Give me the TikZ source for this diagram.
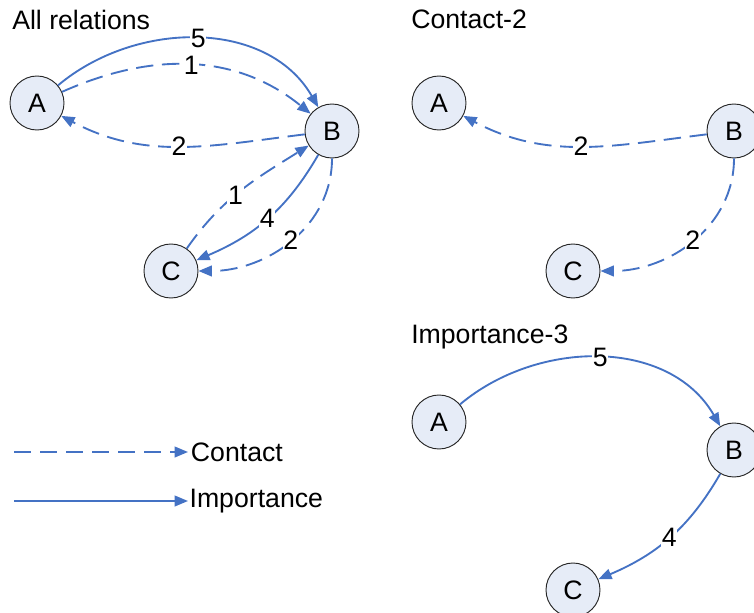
\documentclass[tikz,border=0pt]{standalone}
\usepackage{fontspec}
\setmainfont{Liberation Sans}
\usetikzlibrary{arrows.meta,positioning}
\definecolor{linkblue}{HTML}{4472C4}
\definecolor{personfill}{HTML}{E6ECF7}

\begin{document}
\begin{tikzpicture}[
  x=0.75pt, y=0.75pt,
  every node/.style={font=\fontsize{20}{24}\selectfont},
  person/.style={circle, draw=black!85, line width=0.7pt, fill=personfill,
                 minimum size=40.5pt, inner sep=0pt},
  link/.style={-{Triangle[length=10pt,width=8pt]}, line width=1.4pt, draw=linkblue},
  contact/.style={link, dash pattern=on 13pt off 6.5pt},
  importance/.style={link},
  weight/.style={fill=white, inner sep=0.5pt, pos=0.5},
  title/.style={anchor=base west, inner sep=0pt}
]
  \clip (0,0) rectangle (754,612);
  \useasboundingbox (0,0) rectangle (754,612);

  % titles
  \node[title] (tall) at (12,582) {All relations};
  \node[title] (tcon) at (411,583) {Contact-2};
  \node[title] (timp) at (411,269) {Importance-3};

  % people A, B, C in every panel, same layout shifted
  \foreach \p/\dx/\dy in {all/0/0, con/402/0, imp/402/-319}{
    \foreach \n/\x/\y in {A/37/509, B/332/481, C/171/341}
      \node[person] (\p\n) at (\x+\dx,\y+\dy) {\n};
  }

  % all relations
  \draw[importance] (allA) to[out=40,in=120] node[weight]{5} (allB);
  \draw[contact] (allA) to[out=24,in=141] node[weight]{1} (allB);
  \draw[contact] (allB) to[out=187,in=-28] node[weight]{2} (allA);
  \draw[contact] (allC) to[out=55,in=-148] node[weight,pos=0.45]{1} (allB);
  \draw[importance] (allB) to[out=240,in=23] node[weight]{4} (allC);
  \draw[contact] (allB) to[out=270,in=0] node[weight]{2} (allC);

  % contact only
  \draw[contact] (conB) to[out=187,in=-28] node[weight]{2} (conA);
  \draw[contact] (conB) to[out=270,in=0] node[weight]{2} (conC);

  % importance only
  \draw[importance] (impA) to[out=40,in=120] node[weight]{5} (impB);
  \draw[importance] (impB) to[out=240,in=23] node[weight]{4} (impC);

  % legend
  \coordinate (legc0) at (14,160);
  \coordinate (legc1) at (188,160);
  \coordinate (legi0) at (14,111);
  \coordinate (legi1) at (188,111);
  \draw[contact] (legc0) -- (legc1);
  \draw[importance] (legi0) -- (legi1);
  \node[right=2pt of legc1, inner sep=0pt] (legcon) {Contact};
  \node[right=1pt of legi1, inner sep=0pt] (legimp) {Importance};
\end{tikzpicture}
\end{document}
